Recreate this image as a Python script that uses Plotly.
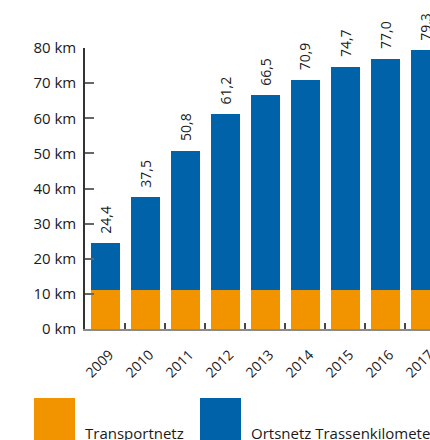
import plotly.graph_objects as go

# Route kilometres per year
years = ["2009", "2010", "2011", "2012", "2013", "2014", "2015", "2016", "2017"]
total_km = [24.4, 37.5, 50.8, 61.2, 66.5, 70.9, 74.7, 77.0, 79.3]
transport_km = [11.0, 11.0, 11.0, 11.0, 11.0, 11.0, 11.0, 11.0, 11.0]
ortsnetz_km = [round(t - b, 1) for t, b in zip(total_km, transport_km)]
y_ticks = [0, 10, 20, 30, 40, 50, 60, 70, 80]
y_tick_text = [f"{v} km" for v in y_ticks]
series_names = ["Transportnetz", "Ortsnetz Trassenkilometer"]

ORANGE = "#F29400"
BLUE = "#0062A8"
FONT = "Open Sans"
W, H = 430, 440
L, R, T, B = 85, 0, 48, 111


def px_to_paper(px, py):
    pw = W - L - R
    ph = H - T - B
    return (px - L) / pw, (H - B - py) / ph


fig = go.Figure()
fig.add_trace(go.Bar(x=years, y=transport_km, name=series_names[0],
                     marker=dict(color=ORANGE, line=dict(width=0))))
fig.add_trace(go.Bar(x=years, y=ortsnetz_km, name=series_names[1],
                     marker=dict(color=BLUE, line=dict(width=0))))

annotations = []
# Year labels look numeric, so annotations address categories by index
for i, tot in enumerate(total_km):
    annotations.append(dict(
        x=i, y=tot, xref="x", yref="y",
        text=f"{tot:.1f}".replace(".", ","),
        textangle=-90, showarrow=False,
        xanchor="center", yanchor="bottom", yshift=8,
        font=dict(family=FONT, size=14, color="#1a1a1a"),
    ))

# Legend: large colour squares with labels below the axis
shapes = []
legend_items = [(34, 75, 83, ORANGE, series_names[0]),
                (200, 241, 249, BLUE, series_names[1])]
for x0, x1, tx, col, name in legend_items:
    px0, py0 = px_to_paper(x0, 398)
    px1, py1 = px_to_paper(x1, 450)
    shapes.append(dict(type="rect", xref="paper", yref="paper",
                       x0=px0, x1=px1, y0=py1, y1=py0,
                       fillcolor=col, line=dict(width=0), layer="above"))
    ax, ay = px_to_paper(tx, 421)
    annotations.append(dict(x=ax, y=ay, xref="paper", yref="paper",
                            text=name, showarrow=False,
                            xanchor="left", yanchor="top",
                            font=dict(family=FONT, size=15, color="#1a1a1a")))

fig.update_layout(
    width=W, height=H,
    margin=dict(l=L, r=R, t=T, b=B, pad=0, autoexpand=False),
    barmode="stack", bargap=0.275,
    showlegend=False,
    plot_bgcolor="white", paper_bgcolor="white",
    font=dict(family=FONT, color="#1a1a1a"),
    annotations=annotations, shapes=shapes,
    xaxis=dict(
        type="category", range=[-0.51, 8.115], automargin=False,
        showgrid=False, showline=True, linecolor="#8a8a8a", linewidth=2,
        ticks="inside", tickson="boundaries", ticklen=6, tickwidth=1.5,
        tickcolor="#444", tickangle=-45, ticklabelstandoff=10,
        ticklabelshift=4,
        tickfont=dict(family=FONT, size=14, color="#1a1a1a"),
    ),
    yaxis=dict(
        range=[0, 80], tickvals=y_ticks, ticktext=y_tick_text,
        automargin=False,
        showgrid=False, zeroline=False, showline=True,
        linecolor="#333", linewidth=1.5,
        ticks="inside", ticklen=9, tickwidth=1.5, tickcolor="#666",
        ticklabelstandoff=4,
        tickfont=dict(family=FONT, size=15, color="#1a1a1a"),
    ),
)

fig.write_html("out.html")
